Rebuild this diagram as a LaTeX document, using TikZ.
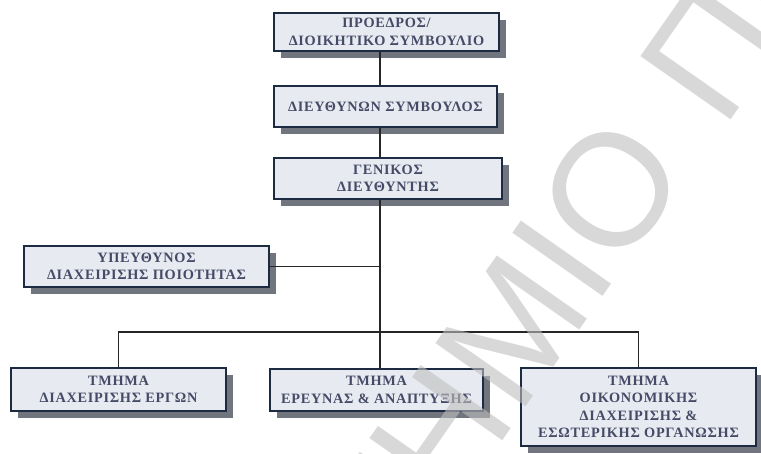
\documentclass[tikz,border=0pt]{standalone}
\usepackage{fontspec}
\setmainfont{Liberation Serif}
\newfontfamily\wmfont{Liberation Sans}
\usetikzlibrary{shadows}

\definecolor{boxfill}{RGB}{231,235,241}
\definecolor{boxline}{RGB}{28,42,66}
\definecolor{boxshade}{RGB}{112,117,126}
\definecolor{boxtext}{RGB}{70,74,102}
\definecolor{linkline}{RGB}{38,38,38}
\definecolor{wmgray}{RGB}{190,190,190}

\tikzset{
  unit/.style={draw=boxline, line width=2.2pt, fill=boxfill, text=boxtext,
    align=center, inner sep=0pt,
    font=\fontsize{14.3}{17.5}\selectfont\bfseries\addfontfeatures{LetterSpace=5},
    general shadow={fill=boxshade, shadow xshift=7pt, shadow yshift=-7pt}},
  link/.style={draw=linkline, line width=1.5pt},
  wmark/.style={text=wmgray, opacity=0.6, inner sep=0pt, rotate=55,
    font=\wmfont\fontsize{160}{160}\selectfont},
}

\begin{document}
\begin{tikzpicture}[x=1pt, y=-1pt]
  \useasboundingbox[fill=white] (0,0) rectangle (761,454);

  % executive chain
  \node[unit, minimum width=225pt, minimum height=38pt] (pres) at (386.5,32)
    {ΠΡΟΕΔΡΟΣ/\\ΔΙΟΙΚΗΤΙΚΟ ΣΥΜΒΟΥΛΙΟ};
  \node[unit, minimum width=223pt, minimum height=41pt] (ceo) at (385.5,106.5)
    {ΔΙΕΥΘΥΝΩΝ ΣΥΜΒΟΥΛΟΣ};
  \node[unit, minimum width=228pt, minimum height=41pt] (gm) at (388,178.5)
    {ΓΕΝΙΚΟΣ\\ΔΙΕΥΘΥΝΤΗΣ};

  % staff position
  \node[unit, minimum width=245pt, minimum height=41pt] (qm) at (146.5,266.5)
    {ΥΠΕΥΘΥΝΟΣ\\ΔΙΑΧΕΙΡΙΣΗΣ ΠΟΙΟΤΗΤΑΣ};

  % departments
  \node[unit, minimum width=215pt, minimum height=43pt] (dproj) at (118.5,389.5)
    {ΤΜΗΜΑ\\ΔΙΑΧΕΙΡΙΣΗΣ ΕΡΓΩΝ};
  \node[unit, minimum width=213pt, minimum height=42pt] (drd) at (376.5,390)
    {ΤΜΗΜΑ\\ΕΡΕΥΝΑΣ \& ΑΝΑΠΤΥΞΗΣ};
  \node[unit, minimum width=235pt, minimum height=78pt] (dfin) at (638.5,407)
    {ΤΜΗΜΑ\\ΟΙΚΟΝΟΜΙΚΗΣ\\ΔΙΑΧΕΙΡΙΣΗΣ \&\\ΕΣΩΤΕΡΙΚΗΣ ΟΡΓΑΝΩΣΗΣ};

  % branch point of the main spine
  \coordinate (spine) at (380,332);

  \draw[link] (spine |- pres.south) -- (spine |- ceo.north);
  \draw[link] (spine |- ceo.south) -- (spine |- gm.north);
  \draw[link] (spine |- gm.south) -- (spine |- drd.north);
  \draw[link] (qm.east) -- (qm.east -| spine);
  \draw[link] (dproj.north) |- (spine) -| (dfin.north);

  % watermark
  \node[wmark, anchor=base east] (wmA) at (692,170) {ΠΑΝΕΠΙΣΤΗΜΙΟ};
  \node[wmark, anchor=base west] (wmB) at (723,131) {ΠΕΙΡΑΙΩΣ};
\end{tikzpicture}
\end{document}
